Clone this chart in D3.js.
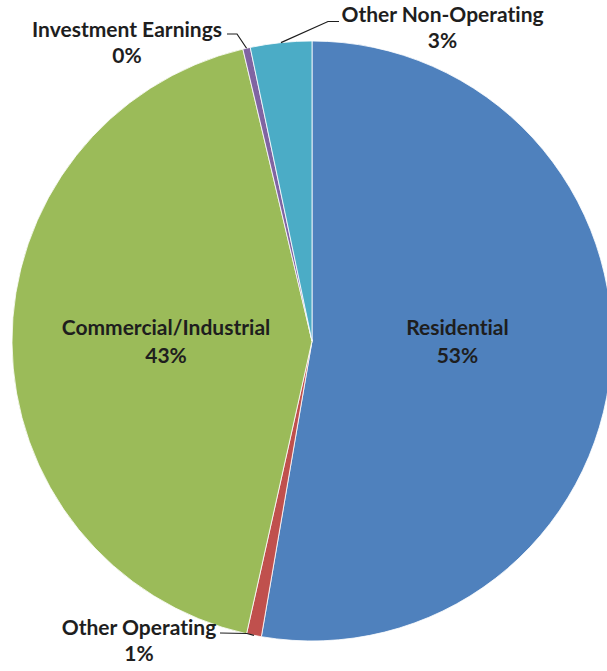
<!DOCTYPE html>
<html>
<head>
<meta charset="utf-8">
<script src="https://cdn.jsdelivr.net/npm/d3@7"></script>
<style>
  html, body { margin: 0; padding: 0; background: #fff; }
  svg { display: block; }
  text { font-family: Lato, "Open Sans", sans-serif; font-weight: 700; fill: #1e1e1e;
         font-variant-ligatures: none; font-feature-settings: "liga" 0, "dlig" 0; }
</style>
</head>
<body>
<svg id="chart" width="607" height="671"></svg>
<script>
// Revenue sources, share of total (%)
const categories = ["Residential", "Other Operating", "Commercial/Industrial", "Investment Earnings", "Other Non-Operating"];
const shares = [52.7, 0.8, 42.8, 0.4, 3.3];
const colors = ["#4F81BD", "#C0504D", "#9BBB59", "#8064A2", "#4BACC6"];

const cx = 312, cy = 341, R = 300;
const fontSize = 21;

const svg = d3.select("#chart");
const g = svg.append("g").attr("transform", `translate(${cx},${cy})`);

const data = categories.map((c, i) => ({ name: c, value: shares[i], color: colors[i] }));

const pie = d3.pie().value(d => d.value).sort(null);
const arcs = pie(data);
const arc = d3.arc().innerRadius(0).outerRadius(R);

g.selectAll("path.slice")
  .data(arcs)
  .join("path")
  .attr("class", "slice")
  .attr("d", arc)
  .attr("fill", d => d.data.color)
  .attr("stroke", "#fff")
  .attr("stroke-width", 0.8);

const pct = v => Math.round(v) + "%";

// Labels inside the two large slices, set on a common line
const inner = d3.arc().innerRadius(146).outerRadius(146);
const insideNames = ["Residential", "Commercial/Industrial"];
arcs.filter(a => insideNames.includes(a.data.name)).forEach(a => {
  const [x] = inner.centroid(a);
  const t = g.append("text").attr("text-anchor", "middle").style("font-size", fontSize + "px");
  t.append("tspan").attr("x", x).attr("y", -6).text(a.data.name);
  t.append("tspan").attr("x", x).attr("y", 22).text(pct(a.data.value));
});

// Callout labels for the thin slices: elbow point and label centre, relative to the chart centre
const callouts = {
  "Investment Earnings": { elbow: [-75, -307], end: [-85, -307], label: [-185, -304] },
  "Other Non-Operating": { elbow: [16, -319.5], end: [27, -319.5], label: [130.5, -319] },
  "Other Operating":     { elbow: [-65, 292.5], end: [-92, 292], label: [-173, 294] }
};
const rim = d3.arc().innerRadius(R).outerRadius(R);

arcs.filter(a => callouts[a.data.name]).forEach(a => {
  const c = callouts[a.data.name];
  const start = rim.centroid(a);
  g.append("polyline")
    .attr("points", [start, c.elbow, c.end].map(p => p.join(",")).join(" "))
    .attr("fill", "none")
    .attr("stroke", "#1e1e1e")
    .attr("stroke-width", 1.2);
  const t = g.append("text").attr("text-anchor", "middle").style("font-size", fontSize + "px");
  t.append("tspan").attr("x", c.label[0]).attr("y", c.label[1]).text(a.data.name);
  t.append("tspan").attr("x", c.label[0]).attr("y", c.label[1] + 26).text(pct(a.data.value));
});
</script>
</body>
</html>
